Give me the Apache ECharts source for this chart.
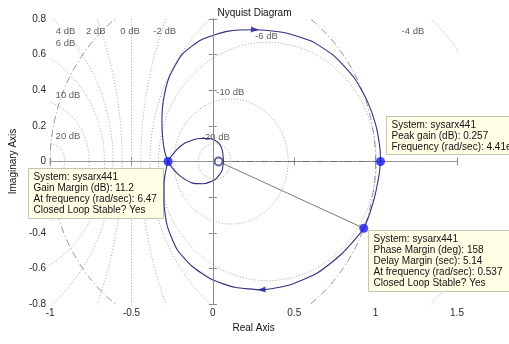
<!DOCTYPE html>
<html>
<head>
<meta charset="utf-8">
<script src="https://cdn.jsdelivr.net/npm/echarts@6/dist/echarts.min.js"></script>
<style>
html, body { margin: 0; padding: 0; background: #fff; }
#chart { width: 509px; height: 344px; }
</style>
</head>
<body>
<div id="chart"></div>
<script>
// Axis ticks
const xTicks = [-1, -0.5, 0, 0.5, 1, 1.5];
const yTicks = [-0.8, -0.6, -0.4, -0.2, 0, 0.2, 0.4, 0.6, 0.8];

// Frequency response, positive frequencies (w from 0 up to the Nyquist frequency)
const posRe = [1.030, 1.022, 0.990, 0.927, 0.787, 0.644, 0.482, 0.299, 0.136, -0.006, -0.128, -0.220, -0.280, -0.300, -0.300, -0.289, -0.275, -0.230, -0.169, -0.087, -0.016, 0.035, 0.059, 0.065];
const posIm = [0.000, -0.070, -0.213, -0.375, -0.522, -0.625, -0.690, -0.720, -0.706, -0.663, -0.588, -0.494, -0.363, -0.232, -0.120, -0.050, 0.000, 0.058, 0.105, 0.129, 0.129, 0.105, 0.058, 0.000];

// Frequency response, negative frequencies
const negRe = [0.065, 0.055, 0.014, -0.057, -0.128, -0.200, -0.250, -0.275, -0.297, -0.310, -0.313, -0.305, -0.270, -0.189, -0.067, 0.096, 0.258, 0.441, 0.604, 0.746, 0.868, 0.949, 1.000, 1.026, 1.030];
const negIm = [0.000, -0.054, -0.101, -0.125, -0.120, -0.082, -0.036, 0.000, 0.060, 0.150, 0.240, 0.339, 0.470, 0.601, 0.685, 0.732, 0.740, 0.723, 0.676, 0.592, 0.470, 0.339, 0.208, 0.077, 0.000];

// Direction arrows (index into each branch)
const posArrowIdx = 7;
const negArrowIdx = 16;

// Closed-loop magnitude contours (dB) and their labels
const mLevels = [-20, -10, -6, -4, -2, 0, 2, 4, 6, 10, 20];
const mLabelText = ['-20 dB', '-10 dB', '-6 dB', '-4 dB', '-2 dB', '0 dB', '2 dB', '4 dB', '6 dB', '10 dB', '20 dB'];
const mLabelRe = [0.018, 0.107, 0.329, 1.229, -0.296, -0.509, -0.72, -0.905, -0.905, -0.89, -0.89];
const mLabelIm = [0.134, 0.386, 0.700, 0.733, 0.733, 0.733, 0.733, 0.733, 0.664, 0.373, 0.139];

// Stability margins
const systemName = 'sysarx441';
const gainMarginDb = 11.2;
const gainMarginFreq = '6.47';
const peakGainDb = 0.257;
const peakGainFreq = '4.41e';
const phaseMarginDeg = 158;
const delayMarginSec = '5.14';
const phaseMarginFreq = '0.537';
const ringRe = 0.035;

const FONT = '"Liberation Sans", Arial, Helvetica, sans-serif';
const AXIS_GRAY = '#8c8c8c';
const GRID_GRAY = '#a4a4a4';
const CURVE = '#30307e';
const MARKER = '#1a1ae8';

const gmPoint = [-Math.pow(10, -gainMarginDb / 20), 0];
const peakPoint = [Math.pow(10, peakGainDb / 20), 0];
const pmAngle = (phaseMarginDeg - 180) * Math.PI / 180;
const pmPoint = [Math.cos(pmAngle), Math.sin(pmAngle)];

function zip(re, im) { return re.map((v, i) => [v, im[i]]); }

function mContour(db) {
  if (db === 0) return [[-0.5, -2], [-0.5, 2]];
  const M = Math.pow(10, db / 20), M2 = M * M;
  const c = -M2 / (M2 - 1), r = Math.abs(M / (M2 - 1));
  const pts = [];
  for (let i = 0; i <= 720; i++) {
    const t = i / 720 * 2 * Math.PI;
    pts.push([c + r * Math.cos(t), r * Math.sin(t)]);
  }
  return pts;
}

function unitCircle() {
  const pts = [];
  for (let i = 0; i <= 720; i++) {
    const t = i / 720 * 2 * Math.PI;
    pts.push([Math.cos(t), Math.sin(t)]);
  }
  return pts;
}

const chart = echarts.init(document.getElementById('chart'), null, { renderer: 'canvas' });

const xMin = xTicks[0], xMax = xTicks[xTicks.length - 1];
const yMin = yTicks[0], yMax = yTicks[yTicks.length - 1];
const xStep = xTicks[1] - xTicks[0], yStep = +(yTicks[1] - yTicks[0]).toFixed(6);

const tickStyle = { inside: true, length: 4, lineStyle: { color: AXIS_GRAY, width: 1 } };
const lineStyleAxis = { show: true, lineStyle: { color: AXIS_GRAY, width: 1 } };
const labelStyle = { color: '#2a2a2a', fontSize: 10, fontFamily: FONT };

const series = [];

mLevels.forEach(db => {
  series.push({
    type: 'line', data: mContour(db), showSymbol: false, silent: true, z: 1,
    lineStyle: { color: GRID_GRAY, width: 1, type: [1, 2] }
  });
});

// real axis
series.push({
  type: 'line', data: [[xMin, 0], [xMax, 0]], showSymbol: false, silent: true, z: 1,
  lineStyle: { color: GRID_GRAY, width: 1, type: [1, 2] }
});

// unit circle
series.push({
  type: 'line', data: unitCircle(), showSymbol: false, silent: true, z: 1,
  lineStyle: { color: '#909090', width: 1, type: [7, 3, 1, 3] }
});

// gain margin segment
series.push({
  type: 'line', data: [[xMin, 0], gmPoint], showSymbol: false, silent: true, z: 2,
  lineStyle: { color: '#9a9a9a', width: 1.2 }
});
// peak gain segment
series.push({
  type: 'line', data: [[ringRe, 0], peakPoint], showSymbol: false, silent: true, z: 2,
  lineStyle: { color: '#6c6c6c', width: 1.2, type: [7, 3, 1, 3] }
});
// phase margin segment
series.push({
  type: 'line', data: [[ringRe, 0], pmPoint], showSymbol: false, silent: true, z: 2,
  lineStyle: { color: '#7a7a7a', width: 1 }
});

// Nyquist curve
series.push({
  type: 'line', data: zip(posRe, posIm), showSymbol: false, smooth: 0.2, smoothMonotone: 'none', silent: true, z: 6,
  lineStyle: { color: CURVE, width: 1.1 }
});
series.push({
  type: 'line', data: zip(negRe, negIm), showSymbol: false, smooth: 0.2, smoothMonotone: 'none', silent: true, z: 6,
  lineStyle: { color: CURVE, width: 1.1 }
});

// direction arrows
function arrowItem(re, im, idx) {
  const dx = (re[idx + 1] - re[idx - 1]) * 164;
  const dy = (im[idx + 1] - im[idx - 1]) * 178;
  const ang = Math.atan2(dy, dx) * 180 / Math.PI;
  return { value: [re[idx], im[idx]], symbolRotate: ang - 90 };
}
series.push({
  type: 'scatter', symbol: 'triangle', symbolSize: [6, 8], silent: true, z: 7,
  itemStyle: { color: '#1c1c9a' },
  data: [arrowItem(posRe, posIm, posArrowIdx), arrowItem(negRe, negIm, negArrowIdx)]
});

// margin markers
series.push({
  type: 'scatter', symbol: 'circle', symbolSize: 9, silent: true, z: 10,
  itemStyle: { color: MARKER },
  data: [gmPoint, peakPoint, pmPoint]
});
series.push({
  type: 'scatter', symbol: 'emptyCircle', symbolSize: 8, silent: true, z: 6,
  itemStyle: { color: '#3a3a8a', borderWidth: 1 },
  data: [[ringRe, 0]]
});

// contour labels
series.push({
  type: 'scatter', symbolSize: 1, silent: true, z: 4,
  itemStyle: { color: 'rgba(0,0,0,0)' },
  label: { show: true, position: 'inside', formatter: p => p.name, color: '#333', fontSize: 9.5, fontFamily: FONT },
  data: mLabelText.map((t, i) => ({ name: t, value: [mLabelRe[i], mLabelIm[i]] }))
});

chart.setOption({
  animation: false,
  backgroundColor: '#ffffff',
  title: {
    text: 'Nyquist Diagram', left: 'center', top: 3,
    textStyle: { fontSize: 10, fontWeight: 'normal', color: '#111', fontFamily: FONT }
  },
  grid: { left: 47, right: 52, top: 19, bottom: 40 },
  xAxis: [
    {
      type: 'value', position: 'bottom', min: xMin, max: xMax, interval: xStep,
      axisLine: lineStyleAxis, axisTick: tickStyle, splitLine: { show: false },
      axisLabel: Object.assign({ margin: 4 }, labelStyle),
      name: 'Real Axis', nameLocation: 'middle', nameGap: 17,
      nameTextStyle: { fontSize: 10, color: '#111', fontFamily: FONT }
    },
    {
      type: 'value', position: 'top', min: xMin, max: xMax, interval: xStep,
      axisLine: lineStyleAxis, axisTick: tickStyle, splitLine: { show: false },
      axisLabel: { show: false }
    }
  ],
  yAxis: [
    {
      type: 'value', position: 'left', min: yMin, max: yMax, interval: yStep,
      axisLine: lineStyleAxis, axisTick: tickStyle, splitLine: { show: false },
      axisLabel: Object.assign({ margin: 4 }, labelStyle),
      name: 'Imaginary Axis', nameLocation: 'middle', nameGap: 28,
      nameTextStyle: { fontSize: 10, color: '#111', fontFamily: FONT }
    },
    {
      type: 'value', position: 'right', min: yMin, max: yMax, interval: yStep, z: 10,
      axisLine: lineStyleAxis, axisTick: tickStyle, splitLine: { show: false },
      axisLabel: { show: false }
    }
  ],
  series: series
});

// Data tips anchored to the margin markers
function tip(anchor, dx, dy, w, h, lines) {
  const p = chart.convertToPixel({ gridIndex: 0 }, anchor);
  const x = Math.round(p[0] + dx) + 0.5, y = Math.round(p[1] + dy) + 0.5;
  const children = [{
    type: 'rect', shape: { x: x, y: y, width: w, height: h },
    style: { fill: '#ffffe6', stroke: '#c4c4b0', lineWidth: 1 }, z: 5
  }];
  lines.forEach((t, i) => {
    children.push({
      type: 'text', z: 5,
      style: { x: x + 5, y: y + 9 + i * 11, text: t, fill: '#111', font: '10px ' + FONT, textVerticalAlign: 'middle', verticalAlign: 'middle' }
    });
  });
  return { type: 'group', children: children };
}

chart.setOption({
  graphic: [
    tip(gmPoint, -140, 6, 135, 50, [
      'System: ' + systemName,
      'Gain Margin (dB): ' + gainMarginDb,
      'At frequency (rad/sec): ' + gainMarginFreq,
      'Closed Loop Stable? Yes'
    ]),
    tip(peakPoint, 5, -46, 140, 38, [
      'System: ' + systemName,
      'Peak gain (dB): ' + peakGainDb,
      'Frequency (rad/sec): ' + peakGainFreq
    ]),
    tip(pmPoint, 4, 2, 141, 61, [
      'System: ' + systemName,
      'Phase Margin (deg): ' + phaseMarginDeg,
      'Delay Margin (sec): ' + delayMarginSec,
      'At frequency (rad/sec): ' + phaseMarginFreq,
      'Closed Loop Stable? Yes'
    ])
  ]
});
</script>
</body>
</html>
